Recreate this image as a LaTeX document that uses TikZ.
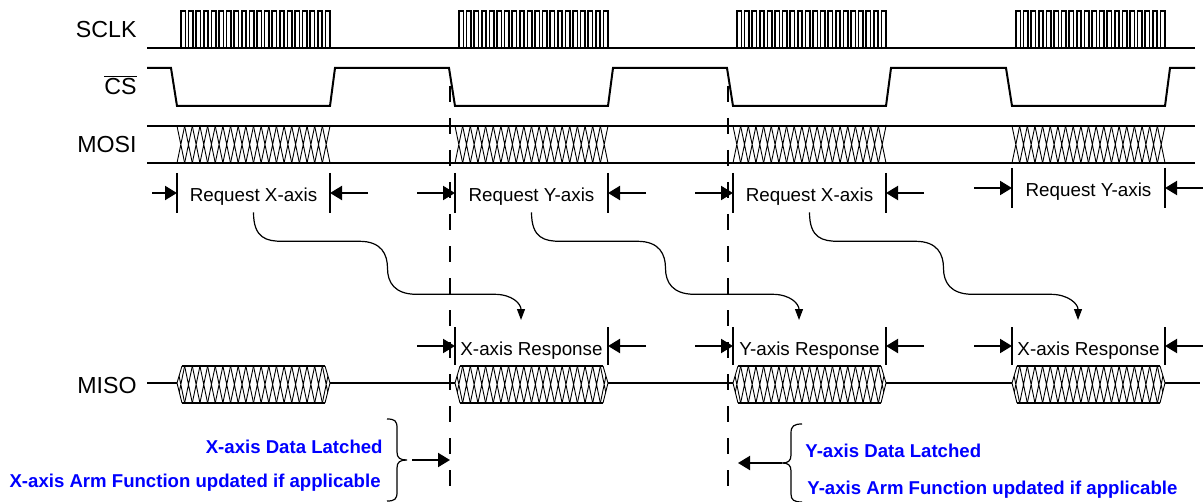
\documentclass[tikz,border=0pt]{standalone}
\usepackage{fontspec}
\setmainfont{Liberation Sans}
\usetikzlibrary{arrows.meta, calc}

\tikzset{
  sig/.style={line width=1pt},
  hatch/.style={line width=0.45pt},
  bar/.style={line width=1pt},
  dim/.style={line width=1pt, -{Triangle[length=6pt,width=7pt]}},
  flow/.style={line width=0.6pt, -{Triangle[length=5.5pt,width=4pt]}},
  marker/.style={line width=1pt, dash pattern=on 8pt off 8pt},
  signame/.style={font=\fontsize{11.6}{13}\selectfont, inner sep=0pt, anchor=base east},
  fieldname/.style={font=\fontsize{9.4}{11}\selectfont, inner sep=0pt, anchor=base},
  note/.style={font=\bfseries\fontsize{9.3}{11}\selectfont, text=blue, inner sep=0pt},
}

\begin{document}
\begin{tikzpicture}[x=0.5pt, y=-0.5pt]
\useasboundingbox (0,0) rectangle (1203,502);

% Signal names
\node[signame] (sclk) at (137,38) {SCLK};
\node[signame] (cs) at (137,95) {$\overline{\mbox{CS}}$};
\node[signame] (mosi) at (137,153) {MOSI};
\node[signame] (miso) at (137,393) {MISO};

% SCLK: idle low, 20 pulses per frame
\draw[sig, line width=0.8pt] (147,48) -- (1195,48);
\foreach \s in {177,455,733,1012} {
  \draw[sig, line width=0.8pt] ({\s+4},48)
    \foreach \i in {0,...,19} {
      -- ({\s+4+\i*7.6},48) -- ({\s+4+\i*7.6},11)
      -- ({\s+8.3+\i*7.6},11) -- ({\s+8.3+\i*7.6},48)
    };
}

% CS (active low)
\draw[sig] (147,68)
  \foreach \s in {177,455,733,1012} {
    -- ({\s-6},68) -- (\s,106) -- ({\s+153},106) -- ({\s+158},68)
  } -- (1195,68);

% MOSI bus
\draw[sig] (147,126) -- (1195,126);
\draw[sig] (147,163) -- (1195,163);
\foreach \s in {177,455,733,1012} {
  \foreach \i in {0,...,19} {
    \draw[hatch] ({\s+\i*7.65},126) -- ({\s+(\i+1)*7.65},163)
                 ({\s+\i*7.65},163) -- ({\s+(\i+1)*7.65},126);
  }
}

% MISO bus
\draw[sig] (147,383) -- (1200,383);
\foreach \s in {177,455,733,1012} {
  \begin{scope}
    \clip (\s,383) -- ({\s+5},366) -- ({\s+148},366) -- ({\s+153},383)
          -- ({\s+148},403) -- ({\s+5},403) -- cycle;
    \fill[white] (\s,366) rectangle ({\s+153},403);
    \foreach \i in {0,...,19} {
      \draw[hatch] ({\s+\i*7.65},366) -- ({\s+(\i+1)*7.65},403)
                   ({\s+\i*7.65},403) -- ({\s+(\i+1)*7.65},366);
    }
  \end{scope}
  \draw[hatch] ({\s+5},366) -- (\s,383) -- ({\s+5},403)
               ({\s+148},366) -- ({\s+153},383) -- ({\s+148},403);
  \draw[sig] ({\s+5},366) -- ({\s+148},366);
  \draw[sig] ({\s+5},403) -- ({\s+148},403);
}

% Frame boundaries
\coordinate (cut2) at (450,86);
\coordinate (cut3) at (728,86);
\draw[marker] (cut2) -- (450,502);
\draw[marker] (cut3) -- (728,502);

% Request fields
\foreach \s/\txt/\k/\dy/\la in {177/Request X-axis/1/0/25, 455/Request Y-axis/2/0/38,
    733/Request X-axis/3/0/38, 1012/Request Y-axis/4/-5/38} {
  \node[fieldname] (req\k) at ({\s+76.5},{202+\dy}) {\txt};
  \draw[bar] (\s,{173+\dy}) -- (\s,{213+\dy});
  \draw[bar] ({\s+153},{173+\dy}) -- ({\s+153},{213+\dy});
  \draw[dim] ({\s-\la},{193+\dy}) -- (\s,{193+\dy});
  \draw[dim] ({\s+191},{193+\dy}) -- ({\s+153},{193+\dy});
}

% Response fields
\foreach \s/\txt/\k in {455/X-axis Response/2, 733/Y-axis Response/3, 1012/X-axis Response/4} {
  \node[fieldname] (rsp\k) at ({\s+76.5},355) {\txt};
  \coordinate (tip\k) at ({\s+66},320);
  \draw[bar] (\s,327) -- (\s,365);
  \draw[bar] ({\s+153},327) -- ({\s+153},365);
  \draw[dim] ({\s-38},346) -- (\s,346);
  \draw[dim] ({\s+191},346) -- ({\s+153},346);
}

% Request -> next response
\foreach \a/\b in {1/2, 2/3, 3/4} {
  \draw[flow] ($(req\a.south)+(0,6)$) .. controls +(0,26) and +(-16,0) .. ++(29,29)
    -- ++(77,0) .. controls +(22,0) and +(0,-14) .. ++(28,27)
    .. controls +(0,14) and +(-22,0) .. ++(29,26)
    -- ++(78,0) .. controls +(18,0) and +(0,-16) .. (tip\b);
}

% Latch notes
\node[note, anchor=base east] (xlat) at (383,453) {X-axis Data Latched};
\node[note, anchor=base east] (xarm) at (381,487) {X-axis Arm Function updated if applicable};
\coordinate (xtip) at (407,460);
\draw[line width=0.6pt] (387,419) .. controls (395,419) and (397,421) .. (397,428)
  -- (397,452) .. controls (397,458) and (400,460) .. (xtip)
  .. controls (400,460) and (397,462) .. (397,468)
  -- (397,492) .. controls (397,499) and (395,501) .. (387,501);
\draw[dim] ($(xtip)+(5,0)$) -- (cut2 |- xtip);

\node[note, anchor=base west] (ylat) at (805,457) {Y-axis Data Latched};
\node[note, anchor=base west] (yarm) at (807,494) {Y-axis Arm Function updated if applicable};
\coordinate (ytip) at (782,463);
\draw[line width=0.6pt] (802,424) .. controls (794,424) and (791,426) .. (791,433)
  -- (791,455) .. controls (791,461) and (788,463) .. (ytip)
  .. controls (788,463) and (791,465) .. (791,471)
  -- (791,494) .. controls (791,500) and (794,502) .. (802,502);
\draw[dim] (ytip) -- ($(cut3 |- ytip)+(10,0)$);
\end{tikzpicture}
\end{document}
